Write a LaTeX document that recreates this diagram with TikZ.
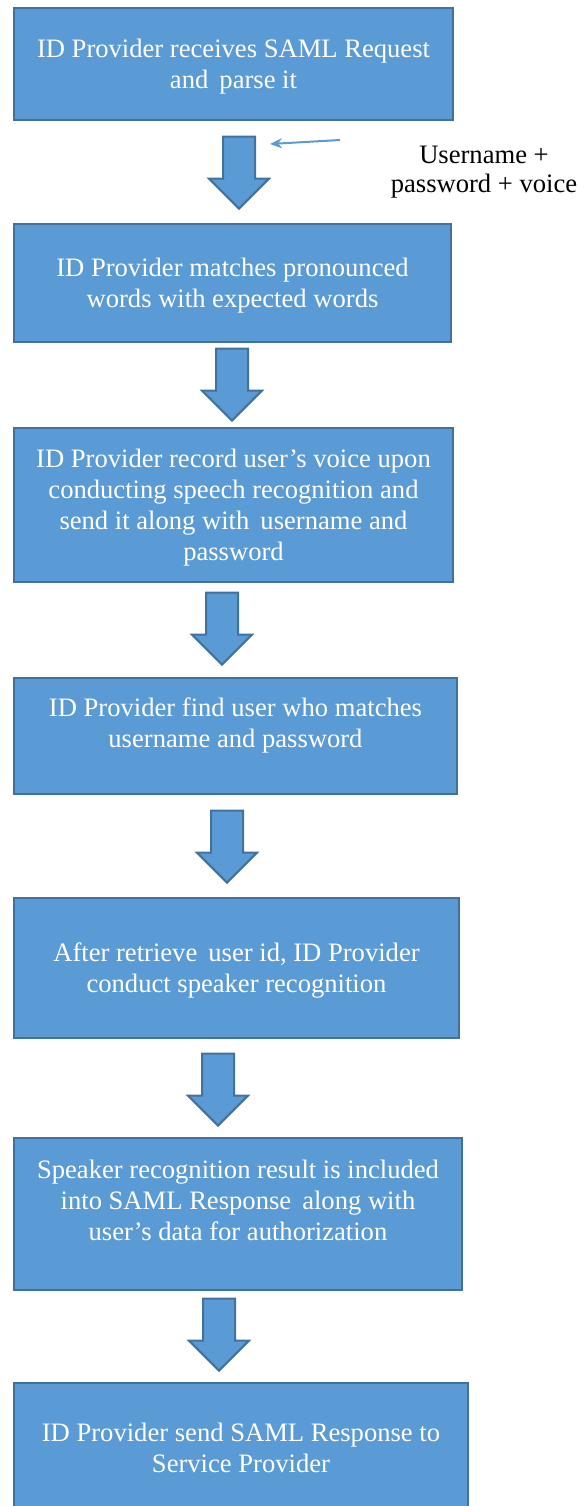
\documentclass[tikz,border=0pt]{standalone}
\usepackage{fontspec}
\setmainfont{Liberation Serif}
\usetikzlibrary{positioning, shapes, arrows.meta}
\definecolor{boxblue}{HTML}{5B9BD5}
\definecolor{boxline}{HTML}{41719C}

\begin{document}
\begin{tikzpicture}[x=0.5pt, y=-0.5pt, every node/.style={font=\fontsize{13.3}{15.5}\selectfont}]
  % Styles
  \tikzset{
    stepbox/.style={rectangle, draw=boxline, line width=1pt, fill=boxblue, text=white, align=center},
    blockarrow/.style={single arrow, draw=boxline, fill=boxblue, line width=1pt, rotate=-90, minimum height=36pt, single arrow head extend=7pt, single arrow head indent=0pt, inner xsep=0pt, inner ysep=7.5pt},
    feed/.style={-{Stealth[length=6pt, width=5pt]}, draw=boxblue, line width=1pt}
  }
  \useasboundingbox (0,0) rectangle (586,1506);

  % Steps
  \node[stepbox, minimum width=219.5pt, minimum height=56pt, text depth=-3pt] (parse) at (233.5,64) {ID Provider receives SAML Request\\and\, parse it};
  \node[stepbox, minimum width=218.5pt, minimum height=59pt, text depth=-1.5pt] (match) at (232.5,283) {ID Provider matches pronounced\\words with expected words};
  \node[stepbox, minimum width=219.5pt, minimum height=77pt, text depth=-2.5pt] (record) at (233.5,505) {ID Provider record user’s voice upon\\conducting speech recognition and\\send it along with\, username and\\password};
  \node[stepbox, minimum width=221.5pt, minimum height=58pt, text depth=13pt] (find) at (235.5,736) {ID Provider find user who matches\\username and password};
  \node[stepbox, minimum width=222.5pt, minimum height=70pt, text depth=-2.5pt] (speaker) at (236.5,968) {After retrieve\, user id, ID Provider\\conduct speaker recognition};
  \node[stepbox, minimum width=224pt, minimum height=76pt, text depth=13.5pt] (result) at (238,1214) {Speaker recognition result is included\\into SAML Response\, along with\\user’s data for authorization};
  \node[stepbox, minimum width=227pt, minimum height=73.5pt, text depth=9pt] (send) at (241,1456.5) {ID Provider send SAML Response to\\Service Provider};

  % Block arrows
  \node[blockarrow, anchor=tip] (a1) at (239,210) {};
  \node[blockarrow, anchor=tip] (a2) at (232,422) {};
  \node[blockarrow, anchor=tip] (a3) at (222,666) {};
  \node[blockarrow, anchor=tip] (a4) at (227,884) {};
  \node[blockarrow, anchor=tip] (a5) at (218,1127) {};
  \node[blockarrow, anchor=tip] (a6) at (219,1372) {};

  % Credentials input
  \node[align=center, font=\fontsize{13.3}{14.5}\selectfont] (cred) at (484,172) {Username +\\password + voice};
  \coordinate (credin) at (340,140);
  \coordinate (credout) at (270,144);
  \draw[feed] (credin) -- (credout);

\end{tikzpicture}
\end{document}
